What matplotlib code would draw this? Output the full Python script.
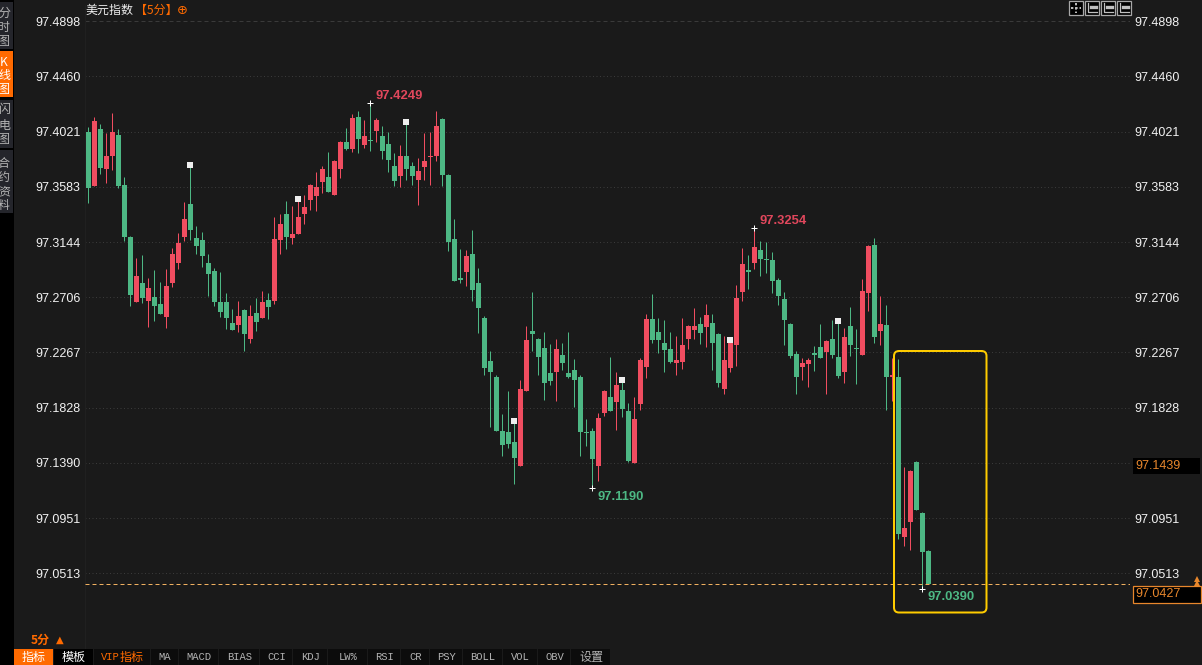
import matplotlib
matplotlib.use("Agg")
import matplotlib.pyplot as plt
import numpy as np
from matplotlib.patches import FancyBboxPatch, Rectangle

plt.rcParams['font.family'] = ['Liberation Sans', 'Noto Sans CJK SC', 'DejaVu Sans']

# 5 minute candles
opens = [
    97.4018, 97.3589, 97.4042, 97.3724, 97.3828, 97.3995, 97.3597, 97.3184, 97.2668, 97.2819,
    97.2676, 97.2708, 97.2652, 97.2549, 97.2819, 97.2978, 97.3184, 97.3446, 97.3176, 97.3160,
    97.2978, 97.2914, 97.2668, 97.2668, 97.2501, 97.2485, 97.2604, 97.2374, 97.2580, 97.2541,
    97.2684, 97.2676, 97.3160, 97.3367, 97.3176, 97.3208, 97.3367, 97.3478, 97.3510, 97.3621,
    97.3661, 97.3518, 97.3724, 97.3939, 97.3883, 97.4138, 97.3915, 97.3955, 97.4026, 97.3987,
    97.3923, 97.3748, 97.3669, 97.3828, 97.3748, 97.3637, 97.3740, 97.3820, 97.3828, 97.4122,
    97.3677, 97.3168, 97.2859, 97.2906, 97.3050, 97.2820, 97.2541, 97.2200, 97.2073, 97.1644,
    97.1636, 97.1556, 97.1366, 97.1962, 97.2438, 97.2375, 97.2303, 97.2105, 97.2113, 97.2248,
    97.2105, 97.2128, 97.2073, 97.1636, 97.1644, 97.1366, 97.1787, 97.1914, 97.1874, 97.1970,
    97.1803, 97.1390, 97.1858, 97.2152, 97.2534, 97.2430, 97.2343, 97.2295, 97.2184, 97.2192,
    97.2375, 97.2446, 97.2494, 97.2470, 97.2502, 97.2414, 97.1977, 97.2144, 97.2327, 97.2748,
    97.2923, 97.2978, 97.3082, 97.3010, 97.3002, 97.2843, 97.2692, 97.2494, 97.2256, 97.2152,
    97.2176, 97.2263, 97.2311, 97.2271, 97.2374, 97.2231, 97.2112, 97.2477, 97.2303, 97.2247,
    97.2740, 97.3121, 97.2438, 97.2485, 97.2072, 97.2072, 97.0801, 97.0920, 97.1397, 97.0992,
    97.0690,
]
highs = [
    97.4058, 97.4138, 97.4082, 97.4010, 97.4169, 97.4042, 97.3661, 97.3192, 97.3017, 97.3041,
    97.2859, 97.2922, 97.2827, 97.2930, 97.3097, 97.3216, 97.3462, 97.3756, 97.3272, 97.3224,
    97.3049, 97.2938, 97.2906, 97.2739, 97.2612, 97.2676, 97.2612, 97.2644, 97.2700, 97.2755,
    97.2739, 97.3343, 97.3367, 97.3470, 97.3430, 97.3486, 97.3518, 97.3605, 97.3701, 97.3748,
    97.3859, 97.3796, 97.3947, 97.4050, 97.4161, 97.4185, 97.4114, 97.4249, 97.4130, 97.4066,
    97.4018, 97.3852, 97.3915, 97.4098, 97.3780, 97.3812, 97.4010, 97.4018, 97.4185, 97.4130,
    97.3685, 97.3327, 97.3089, 97.3081, 97.3241, 97.2939, 97.2557, 97.2279, 97.2089, 97.1779,
    97.1962, 97.1723, 97.2049, 97.2478, 97.2748, 97.2383, 97.2430, 97.2335, 97.2375, 97.2343,
    97.2430, 97.2216, 97.2089, 97.1739, 97.1668, 97.1787, 97.1970, 97.2232, 97.2113, 97.2049,
    97.1866, 97.1914, 97.2224, 97.2573, 97.2732, 97.2541, 97.2526, 97.2430, 97.2398, 97.2541,
    97.2486, 97.2621, 97.2549, 97.2653, 97.2573, 97.2422, 97.2398, 97.2367, 97.2804, 97.3098,
    97.3042, 97.3254, 97.3153, 97.3145, 97.3066, 97.2859, 97.2748, 97.2502, 97.2279, 97.2224,
    97.2224, 97.2319, 97.2494, 97.2367, 97.2525, 97.2517, 97.2461, 97.2628, 97.2454, 97.2851,
    97.3121, 97.3176, 97.2716, 97.2644, 97.2223, 97.2215, 97.1357, 97.1333, 97.1405, 97.1000,
    97.0698,
]
lows = [
    97.3454, 97.3589, 97.3685, 97.3613, 97.3716, 97.3573, 97.3152, 97.2636, 97.2668, 97.2660,
    97.2469, 97.2517, 97.2573, 97.2461, 97.2787, 97.2930, 97.3152, 97.3160, 97.3049, 97.2946,
    97.2716, 97.2636, 97.2549, 97.2453, 97.2445, 97.2430, 97.2279, 97.2342, 97.2438, 97.2541,
    97.2533, 97.2652, 97.3049, 97.3089, 97.3129, 97.3208, 97.3288, 97.3399, 97.3391, 97.3534,
    97.3542, 97.3518, 97.3653, 97.3875, 97.3859, 97.3852, 97.3891, 97.3867, 97.3939, 97.3804,
    97.3701, 97.3589, 97.3581, 97.3637, 97.3597, 97.3438, 97.3637, 97.3597, 97.3788, 97.3589,
    97.3073, 97.2835, 97.2819, 97.2795, 97.2677, 97.2422, 97.2089, 97.1676, 97.1644, 97.1445,
    97.1509, 97.1223, 97.1366, 97.1962, 97.2279, 97.2089, 97.1890, 97.2009, 97.1882, 97.2128,
    97.2065, 97.1834, 97.1445, 97.1525, 97.1190, 97.1247, 97.1763, 97.1803, 97.1652, 97.1755,
    97.1398, 97.1390, 97.1811, 97.2065, 97.2343, 97.2263, 97.2113, 97.2184, 97.2089, 97.2136,
    97.2295, 97.2375, 97.2335, 97.2311, 97.2128, 97.1993, 97.1938, 97.2113, 97.2160, 97.2677,
    97.2772, 97.2931, 97.2875, 97.2899, 97.2740, 97.2645, 97.2327, 97.2224, 97.1938, 97.2049,
    97.1993, 97.2120, 97.2224, 97.1938, 97.2223, 97.2064, 97.2025, 97.2239, 97.2017, 97.2247,
    97.2597, 97.2342, 97.2326, 97.1810, 97.1882, 97.0785, 97.0730, 97.0698, 97.1016, 97.0390,
    97.0427,
]
closes = [
    97.3573, 97.4106, 97.3732, 97.3828, 97.4018, 97.3589, 97.3184, 97.2723, 97.2874, 97.2700,
    97.2779, 97.2636, 97.2573, 97.2795, 97.3049, 97.3137, 97.3327, 97.3240, 97.3113, 97.3033,
    97.2890, 97.2668, 97.2588, 97.2541, 97.2445, 97.2557, 97.2414, 97.2557, 97.2509, 97.2668,
    97.2628, 97.3168, 97.3288, 97.3184, 97.3208, 97.3343, 97.3423, 97.3597, 97.3581, 97.3724,
    97.3542, 97.3788, 97.3939, 97.3883, 97.4130, 97.3963, 97.3987, 97.3947, 97.4114, 97.3867,
    97.3796, 97.3629, 97.3828, 97.3724, 97.3669, 97.3709, 97.3788, 97.3828, 97.4066, 97.3677,
    97.3145, 97.2835, 97.2843, 97.3033, 97.2764, 97.2621, 97.2144, 97.2113, 97.1644, 97.1533,
    97.1541, 97.1429, 97.1977, 97.2367, 97.2414, 97.2232, 97.2025, 97.2041, 97.2295, 97.2184,
    97.2073, 97.2049, 97.1636, 97.1628, 97.1421, 97.1747, 97.1962, 97.1803, 97.2009, 97.1819,
    97.1406, 97.1739, 97.2208, 97.2534, 97.2367, 97.2367, 97.2287, 97.2192, 97.2208, 97.2327,
    97.2478, 97.2478, 97.2422, 97.2565, 97.2343, 97.2025, 97.2208, 97.2343, 97.2700, 97.2970,
    97.2907, 97.3106, 97.3010, 97.3002, 97.2835, 97.2716, 97.2526, 97.2240, 97.2073, 97.2184,
    97.2208, 97.2248, 97.2224, 97.2359, 97.2247, 97.2080, 97.2390, 97.2326, 97.2295, 97.2755,
    97.3113, 97.2390, 97.2493, 97.2072, 97.2088, 97.0825, 97.0873, 97.1325, 97.1016, 97.0682,
    97.0427,
]

tick_values = [97.4898, 97.4460, 97.4021, 97.3583, 97.3144, 97.2706,
               97.2267, 97.1828, 97.1390, 97.0951, 97.0513]
tick_labels = ['97.4898', '97.4460', '97.4021', '97.3583', '97.3144', '97.2706',
               '97.2267', '97.1828', '97.1390', '97.0951', '97.0513']

# every 18th candle carries a small white flag
flagged = [17, 35, 53, 71, 89, 107, 125]
# (candle, price, label colour, vertical side of the label)
extremes = [(47, 97.4249, '#e0475c', 1), (111, 97.3254, '#e0475c', 1),
            (84, 97.1190, '#4db884', -1), (139, 97.0390, '#4db884', -1)]
last_price = 97.0427
other_price = '97.1439'
indicators = ['MA', 'MACD', 'BIAS', 'CCI', 'KDJ', 'LW%', 'RSI', 'CR', 'PSY', 'BOLL', 'VOL', 'OBV', '设置']

BG = '#1a1a1a'
RED = '#f04d60'
GREEN = '#4db784'
ORANGE = '#ff6a00'
TAG = '#e8872c'
CJK = ['Noto Sans CJK SC', 'DejaVu Sans']
W, H = 1202, 665
PX = 0.72  # points per pixel at dpi 100

fig = plt.figure(figsize=(W / 100, H / 100), dpi=100, facecolor=BG)

# price pane, pixel box 85..1130 x 5..648, scale taken from the grid lines
left, right, top, bottom = 85, 1130, 5, 648
ax = fig.add_axes([left / W, 1 - bottom / H, (right - left) / W, (bottom - top) / H], facecolor=BG)
price_per_px = 0.0007944
ax.set_ylim(97.4898 - (bottom - 21.3) * price_per_px, 97.4898 + (21.3 - top) * price_per_px)
ax.set_xlim((left - 88.3) / 6, (right - 88.3) / 6)

for name in ax.spines:
    ax.spines[name].set_visible(False)
ax.spines['left'].set_visible(True)
ax.spines['left'].set_color('#202020')

ax.set_xticks([])
ax.set_yticks(tick_values)
ax.set_yticklabels(tick_labels)
ax.tick_params(axis='y', length=0, left=False, right=False, labelleft=True, labelright=True,
               labelsize=12.5 * PX, labelcolor='#f2f2f2', pad=3.2)

ax.hlines(tick_values[1:], *ax.get_xlim(), colors='#3a3a3a', linewidth=0.72, linestyles=(0, (1, 2.5)), zorder=1)
ax.hlines(tick_values[0], *ax.get_xlim(), colors='#3a3a3a', linewidth=0.72, linestyles=(0, (4, 3)), zorder=1)

x = np.arange(len(opens))
o = np.array(opens)
h = np.array(highs)
l = np.array(lows)
c = np.array(closes)
colors = [RED if up else GREEN for up in c >= o]

wicks = ax.vlines(x, l, h, colors=colors, linewidth=0.72, zorder=2)
wicks.set_snap(True)
ax.bar(x, np.abs(c - o), bottom=np.minimum(o, c), width=5 / 6, color=colors, linewidth=0, zorder=3)

ax.scatter(x[flagged], h[flagged], marker='s', s=19, color='#eeeeee', linewidths=0, zorder=4)

for idx, price, color, side in extremes:
    ax.plot(idx, price, marker='+', ms=5, mew=0.72, color='white', zorder=5)
    offset = 5.2 if side > 0 else -6.2
    ax.annotate(f'{price:.4f}', xy=(idx, price), xytext=(3.4, offset), textcoords='offset points',
                color=color, fontsize=13 * PX, fontweight='bold', va='center', ha='left', zorder=6)

ax.axhline(last_price, color='#f0b060', linewidth=0.72, linestyle=(0, (4, 3)), zorder=4)

# everything around the chart lives in a pixel overlay
ui = fig.add_axes([0, 0, 1, 1], facecolor='none')
ui.set_xlim(0, W)
ui.set_ylim(H, 0)
ui.axis('off')


def box(x0, y0, x1, y1, face, edge='none', lw=0.0, z=5):
    ui.add_patch(Rectangle((x0, y0), x1 - x0, y1 - y0, facecolor=face, edgecolor=edge, linewidth=lw, zorder=z))


# side tabs
box(0, 0, 14, H, '#000000', z=1)
for y0, y1, face in [(2, 49, '#24252b'), (51, 97, ORANGE), (100, 148, '#24252b'), (150, 213, '#24252b')]:
    box(0, y0, 13, y1, face, z=2)
side_tabs = [('分时图', [13, 27, 41], '#b4b4b4'), ('K线图', [62, 76, 90], 'white'),
             ('闪电图', [110, 125, 139], '#b4b4b4'), ('合约资料', [163, 178, 192, 206], '#b4b4b4')]
for word, ys, color in side_tabs:
    for ch, yy in zip(word, ys):
        ui.text(4, yy, ch, color=color, fontsize=12 * PX, ha='center', va='center', zorder=6, family=CJK)

# title
ui.text(86, 10, '美元指数', color='#eeeeee', fontsize=12 * PX, va='center', ha='left', family=CJK)
ui.text(135, 10, '【5分】', color=ORANGE, fontsize=12 * PX, va='center', ha='left', family=CJK)
ui.text(182, 11, '⊕', color=ORANGE, fontsize=13 * PX, va='center', ha='center', family='DejaVu Sans')

# tool buttons, top right
for bx in [1069, 1085, 1101, 1117]:
    box(bx, 1, bx + 14, 15, '#000000', edge='#a8a8a8', lw=0.9)
    if bx == 1069:
        ui.plot([bx + 2, bx + 12], [8, 8], color='#c0c0c0', lw=1.4, ls=(0, (1.2, 1)), zorder=6)
        ui.plot([bx + 7, bx + 7], [3, 13], color='#c0c0c0', lw=1.4, ls=(0, (1.2, 1)), zorder=6)
    else:
        ui.plot([bx + 3, bx + 3, bx + 12], [3, 12, 12], color='#c0c0c0', lw=0.9, zorder=6)
        ui.plot([bx + 6, bx + 11], [7, 7], color='#c0c0c0', lw=2.4, zorder=6)

# yellow highlight box
ui.add_patch(FancyBboxPatch((897, 354), 86.5, 255.5, boxstyle='round,pad=3,rounding_size=5',
                            facecolor='none', edgecolor='#ffcc00', linewidth=2 * PX, zorder=7))

# price tags on the right edge
box(1133, 458, 1200, 474, '#000000', z=7)
ui.text(1135, 466, other_price, color=TAG, fontsize=12.5 * PX, va='center', ha='left', zorder=8)
box(1132.5, 585.5, 1200.5, 602.5, '#000000', edge=TAG, lw=0.9, z=7)
ui.text(1135, 594, f'{last_price:.4f}', color=TAG, fontsize=12.5 * PX, va='center', ha='left', zorder=8)
ui.plot([1196.5, 1196.5], [578.5, 582.5], ls='none', marker='^', ms=4.2, mew=0, color=TAG, zorder=8)

# bottom bar
ui.text(31, 640, '5分', color=ORANGE, fontsize=12 * PX, fontweight='bold', va='center', ha='left', family=CJK)
ui.text(60, 640, '▲', color=ORANGE, fontsize=10 * PX, va='center', ha='center', family='DejaVu Sans')
box(14, 649, 53, H, ORANGE)
ui.text(33.5, 657, '指标', color='white', fontsize=12 * PX, ha='center', va='center', family=CJK, zorder=6)
box(54, 649, 93, H, '#000000')
ui.text(73.5, 657, '模板', color='white', fontsize=12 * PX, ha='center', va='center', family=CJK, zorder=6)
box(94, 649, 150, H, '#0c0c0c')
ui.text(120, 657, 'VIP', color=ORANGE, fontsize=10.5 * PX, ha='right', va='center',
        family='Liberation Mono', zorder=6)
ui.text(120, 657, '指标', color=ORANGE, fontsize=12 * PX, ha='left', va='center', family=CJK, zorder=6)

edges = [151, 179, 219, 260, 293, 328, 368, 401, 430, 463, 503, 538, 571, 611]
for name, x0, x1 in zip(indicators, edges[:-1], edges[1:]):
    box(x0, 649, x1 - 1, H, '#0c0c0c')
    is_cjk = name == '设置'
    ui.text((x0 + x1) / 2, 657, name, color='#b4b4b4', fontsize=(12 if is_cjk else 10.5) * PX,
            ha='center', va='center', zorder=6, family=CJK if is_cjk else 'Liberation Mono')

fig.savefig('out.png', dpi=100, facecolor=BG)
